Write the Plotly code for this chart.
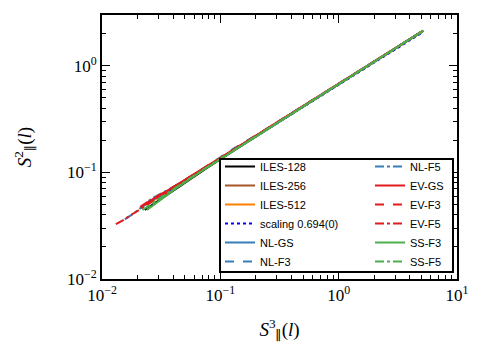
import plotly.graph_objects as go

# ---------------- data ----------------
iles128_x = [0.023, 0.028, 0.035, 0.05, 0.08, 0.15, 0.3, 0.6, 1.2, 2.5, 5.0]
iles128_y = [0.0445, 0.0515, 0.0615, 0.0805, 0.113, 0.177, 0.288, 0.470, 0.765, 1.28, 2.08]

iles256_x = [0.025, 0.03, 0.04, 0.06, 0.1, 0.2, 0.4, 0.8, 1.6, 3.2, 5.1]
iles256_y = [0.0525, 0.0595, 0.0725, 0.0955, 0.136, 0.221, 0.357, 0.578, 0.937, 1.52, 2.11]

iles512_x = [0.024, 0.03, 0.04, 0.06, 0.1, 0.2, 0.4, 0.8, 1.6, 3.2, 5.15]
iles512_y = [0.050, 0.0585, 0.0715, 0.0945, 0.1355, 0.220, 0.356, 0.577, 0.937, 1.523, 2.12]

scaling_x = [0.03, 5.0]
scaling_y = [0.0585, 2.03]

nlgs_x = [0.022, 0.027, 0.033, 0.045, 0.07, 0.12, 0.25, 0.5, 1.0, 2.0, 4.0, 5.2]
nlgs_y = [0.048, 0.0555, 0.0635, 0.078, 0.1055, 0.154, 0.256, 0.416, 0.676, 1.097, 1.78, 2.14]

nlf3_x = [0.021, 0.025, 0.03, 0.04, 0.06, 0.1, 0.13, 0.2, 0.4, 0.8, 1.6, 3.2, 5.0]
nlf3_y = [0.0460, 0.0530, 0.0600, 0.0725, 0.0960, 0.1385, 0.168, 0.222, 0.358, 0.580, 0.94, 1.525, 2.08]

nlf5_x = [0.0156, 0.019, 0.022, 0.026, 0.032, 0.045, 0.07, 0.12, 0.25, 0.5, 1.0, 2.0, 4.0, 5.1]
nlf5_y = [0.0362, 0.0420, 0.0480, 0.0565, 0.0640, 0.0780, 0.1055, 0.154, 0.256, 0.415, 0.675, 1.096, 1.78, 2.12]

evgs_x = [0.022, 0.026, 0.03, 0.035, 0.045, 0.06, 0.1, 0.2, 0.4, 0.8, 1.6, 3.2, 5.1]
evgs_y = [0.0485, 0.0550, 0.0610, 0.0665, 0.0795, 0.0965, 0.137, 0.222, 0.358, 0.580, 0.94, 1.525, 2.11]

evf3_x = [0.021, 0.024, 0.028, 0.035, 0.05, 0.08, 0.15, 0.3, 0.6, 1.2, 2.5, 5.0]
evf3_y = [0.0475, 0.0525, 0.0575, 0.0665, 0.0845, 0.117, 0.181, 0.292, 0.474, 0.77, 1.285, 2.085]

evf5_x = [0.0131, 0.015, 0.018, 0.022, 0.027, 0.035, 0.05, 0.08, 0.15, 0.3, 0.6, 1.2, 2.5, 5.2]
evf5_y = [0.0327, 0.0355, 0.0405, 0.0465, 0.0540, 0.0650, 0.0830, 0.1155, 0.180, 0.291, 0.473, 0.768, 1.283, 2.14]

ssf3_x = [0.024, 0.028, 0.034, 0.045, 0.07, 0.12, 0.25, 0.5, 1.0, 2.0, 4.0, 5.1]
ssf3_y = [0.0445, 0.0505, 0.0590, 0.0745, 0.1035, 0.152, 0.255, 0.414, 0.674, 1.095, 1.78, 2.11]

ssf5_x = [0.022, 0.026, 0.032, 0.042, 0.06, 0.1, 0.2, 0.4, 0.8, 1.6, 3.2, 5.2]
ssf5_y = [0.0445, 0.0500, 0.0590, 0.0725, 0.0935, 0.1345, 0.219, 0.355, 0.577, 0.937, 1.523, 2.14]

x_tickvals = [0.01, 0.1, 1, 10]
x_ticktext = ["10<sup>−2</sup>", "10<sup>−1</sup>", "10<sup>0</sup>", "10<sup>1</sup>"]
y_tickvals = [0.01, 0.1, 1]
y_ticktext = ["10<sup>−2</sup>", "10<sup>−1</sup>", "10<sup>0</sup>"]

x_minor = [m * 10.0 ** e for e in (-2, -1, 0) for m in range(2, 10)]
y_minor = [m * 10.0 ** e for e in (-2, -1, 0) for m in range(2, 10) if m * 10.0 ** e < 3.0]

BLACK = "#000000"
BROWN = "#a65628"
ORANGE = "#ff7f00"
BLUE = "#377eb8"
RED = "#e41a1c"
GREEN = "#4daf4a"

series = [
    ("ILES-128", iles128_x, iles128_y, BLACK, "solid", "legend"),
    ("ILES-256", iles256_x, iles256_y, BROWN, "solid", "legend"),
    ("ILES-512", iles512_x, iles512_y, ORANGE, "solid", "legend"),
    ("scaling 0.694(0)", scaling_x, scaling_y, "#0000ff", "dot", "legend"),
    ("NL-GS", nlgs_x, nlgs_y, BLUE, "solid", "legend"),
    ("NL-F3", nlf3_x, nlf3_y, BLUE, "dash", "legend"),
    ("NL-F5", nlf5_x, nlf5_y, BLUE, "dashdot", "legend2"),
    ("EV-GS", evgs_x, evgs_y, RED, "solid", "legend2"),
    ("EV-F3", evf3_x, evf3_y, RED, "dash", "legend2"),
    ("EV-F5", evf5_x, evf5_y, RED, "dashdot", "legend2"),
    ("SS-F3", ssf3_x, ssf3_y, GREEN, "solid", "legend2"),
    ("SS-F5", ssf5_x, ssf5_y, GREEN, "dashdot", "legend2"),
]

fig = go.Figure()
for name, xs, ys, col, dash, leg in series:
    fig.add_trace(go.Scatter(
        x=xs, y=ys, mode="lines", name=name,
        line=dict(color=col, width=2, dash=dash),
        legend=leg,
    ))

# plot area in pixels: x 102..457, y 15..279
W, H = 487, 360
L, R, T, B = 102, 30, 15, 81
pw, ph = W - L - R, H - T - B

def px_x(p):
    return (p - L) / pw

def px_y(p):
    return (H - B - p) / ph

legend_font = dict(family="Liberation Sans, Arial, sans-serif", size=11, color="black")
serif = "Liberation Serif, DejaVu Serif, serif"

fig.add_shape(type="rect", xref="paper", yref="paper",
              x0=px_x(220), x1=px_x(453), y0=px_y(272), y1=px_y(159),
              line=dict(color="black", width=2), fillcolor="white", layer="above")

axis_common = dict(
    type="log", showline=True, linecolor="black", linewidth=2, mirror="allticks",
    ticks="inside", ticklen=8, tickwidth=1, tickcolor="black",
    showgrid=False, zeroline=False,
    tickfont=dict(family=serif, size=17, color="black"),
    tickmode="array",
)

fig.update_layout(
    width=W, height=H,
    margin=dict(l=L, r=R, t=T, b=B),
    paper_bgcolor="white", plot_bgcolor="white",
    xaxis=dict(**axis_common, range=[-2, 1], tickvals=x_tickvals, ticktext=x_ticktext,
               minor=dict(tickmode="array", tickvals=x_minor, ticks="inside", ticklen=4,
                          tickwidth=1, tickcolor="black", showgrid=False),
               title=dict(text="<i>S</i><sup>3</sup><sub>∥</sub>(<i>l</i>)", standoff=18,
                          font=dict(family=serif, size=19, color="black"))),
    yaxis=dict(**axis_common, range=[-2, 0.477], tickvals=y_tickvals, ticktext=y_ticktext,
               minor=dict(tickmode="array", tickvals=y_minor, ticks="inside", ticklen=4,
                          tickwidth=1, tickcolor="black", showgrid=False),
               title=dict(text="<i>S</i><sup>2</sup><sub>∥</sub>(<i>l</i>)", standoff=30,
                          font=dict(family=serif, size=19, color="black"))),
    legend=dict(x=px_x(220), y=px_y(152), xanchor="left", yanchor="top",
                bgcolor="rgba(0,0,0,0)", borderwidth=0, font=legend_font,
                itemwidth=30, tracegroupgap=0),
    legend2=dict(x=px_x(370), y=px_y(152), xanchor="left", yanchor="top",
                 bgcolor="rgba(0,0,0,0)", borderwidth=0, font=legend_font,
                 itemwidth=30, tracegroupgap=0),
    showlegend=True,
)

fig.write_html("out.html")
